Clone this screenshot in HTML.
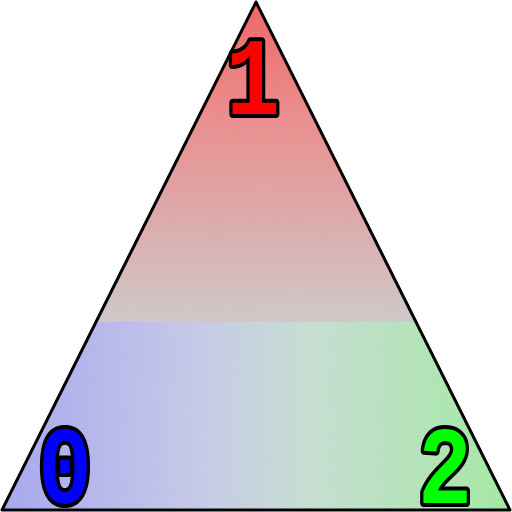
<!DOCTYPE html>
<html><head><meta charset="utf-8">
<style>
html,body{margin:0;padding:0;background:#fff;width:512px;height:512px;overflow:hidden}
svg{display:block}
</style></head>
<body>
<svg id="chart" width="512" height="512" viewBox="0 0 512 512" xmlns="http://www.w3.org/2000/svg">
<defs>
  <clipPath id="tri"><polygon points="256,2 2,510 510,510"/></clipPath>
  <linearGradient id="gTop" x1="0" y1="0" x2="0" y2="1">
    <stop offset="0" stop-color="#f26464"/>
    <stop offset="0.35" stop-color="#ee8c8c"/>
    <stop offset="1" stop-color="#d2caca"/>
  </linearGradient>
  <linearGradient id="gBot" x1="0" y1="0" x2="1" y2="0">
    <stop offset="0" stop-color="#a8a8f2"/>
    <stop offset="0.4" stop-color="#c8cdea"/>
    <stop offset="0.6" stop-color="#c8e0d4"/>
    <stop offset="1" stop-color="#a4eca4"/>
  </linearGradient>
  <filter id="noise" x="0" y="0" width="100%" height="100%">
    <feTurbulence type="fractalNoise" baseFrequency="0.9" numOctaves="2" seed="3"/>
    <feColorMatrix type="matrix" values="0 0 0 0 0.4  0 0 0 0 0.4  0 0 0 0 0.4  0 0 0 -1.6 0.9"/>
  </filter>
</defs>
<g clip-path="url(#tri)">
  <rect x="0" y="0" width="512" height="322" fill="url(#gTop)"/>
  <rect x="0" y="322" width="512" height="190" fill="url(#gBot)"/>
  <rect x="0" y="0" width="512" height="512" filter="url(#noise)" opacity="0.35"/>
</g>
<polygon points="256,2 2,510 510,510" fill="none" stroke="#000" stroke-width="3" stroke-linejoin="round"/>
<g id="labels"></g>
</svg>
<script>
const vertexLabels = ["0", "1", "2"];
const vertexColors = ["#0000ff", "#ff0000", "#00ff00"];
const labelX = [65, 253, 445];
const labelY = [503, 114, 503];
const g = document.getElementById('labels');
const names = ['vertex-label-0','vertex-label-1','vertex-label-2'];
for (let i = 0; i < vertexLabels.length; i++) {
  const t = document.createElementNS('http://www.w3.org/2000/svg','text');
  t.setAttribute('x', labelX[i]);
  t.setAttribute('y', labelY[i]);
  t.setAttribute('text-anchor','middle');
  t.setAttribute('font-family','"Liberation Mono", monospace');
  t.setAttribute('font-weight','bold');
  t.setAttribute('font-size','110');
  t.setAttribute('textLength','54');
  t.setAttribute('lengthAdjust','spacingAndGlyphs');
  t.setAttribute('fill', vertexColors[i]);
  t.setAttribute('stroke','#000');
  t.setAttribute('stroke-width','8');
  t.setAttribute('stroke-linejoin','round');
  t.setAttribute('paint-order','stroke');
  
  
  t.textContent = vertexLabels[i];
  g.appendChild(t);
}
</script>
</body></html>
